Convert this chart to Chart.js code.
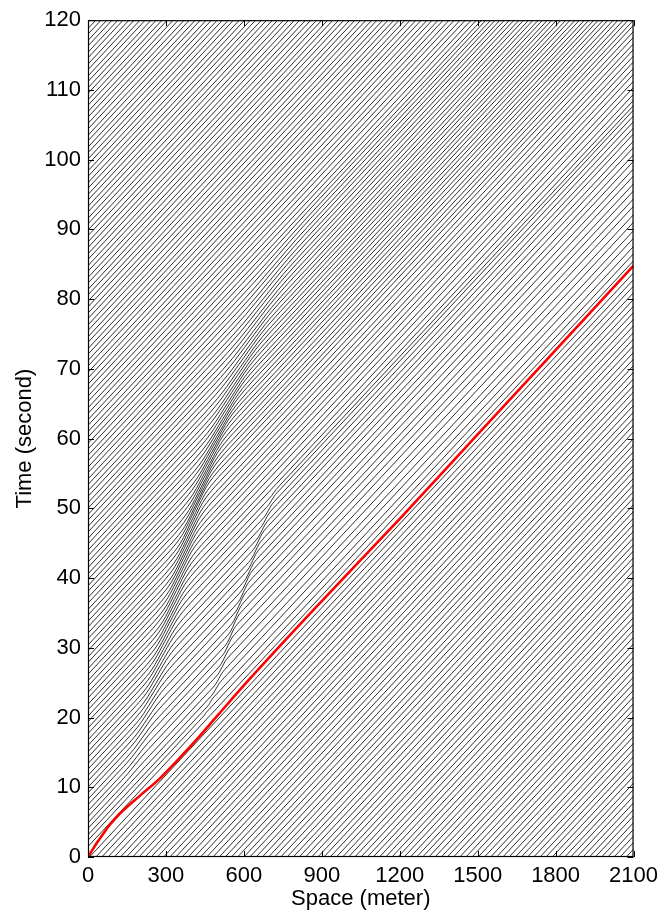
<!DOCTYPE html>
<html>
<head>
<meta charset="utf-8">
<script src="https://cdn.jsdelivr.net/npm/chart.js@4.4.1/dist/chart.umd.min.js"></script>
<style>
  html, body { margin: 0; padding: 0; background: #fff; }
</style>
</head>
<body>
<canvas id="tsChart" width="664" height="912"></canvas>
<script>
// ---- axes ----
const xTicks = [0, 300, 600, 900, 1200, 1500, 1800, 2100];
const yTicks = [0, 10, 20, 30, 40, 50, 60, 70, 80, 90, 100, 110, 120];
const roadEnd = 2100;      // meter
const freeSpeed = 25;      // m/s, slope of the hatch

// ---- vehicles already on the road at t = 0 (position, meter) ----
const startPositions = [6, 30, 53, 77, 101, 125, 148, 172, 196, 220, 243, 267, 291, 315, 338, 362, 386, 410,
  433, 457, 481, 505, 528, 552, 576, 600, 623, 647, 671, 695, 718, 742, 766, 790, 813, 837, 861, 885, 908,
  932, 956, 980, 1003, 1027, 1051, 1075, 1098, 1122, 1146, 1170, 1193, 1217, 1241, 1265, 1288, 1312, 1336,
  1360, 1383, 1407, 1431, 1455, 1478, 1502, 1526, 1550, 1573, 1597, 1621, 1645, 1668, 1692, 1716, 1740,
  1763, 1787, 1811, 1835, 1858, 1882, 1906, 1930, 1953, 1977, 2001, 2025, 2048, 2072, 2096];

// ---- vehicles entering at x = 0 after the red one (second) ----
const entryTimes = [1.5, 2.4, 3.2, 4.1, 4.9, 5.8, 6.6, 7.5, 8.3, 9.2, 10.0, 10.9, 11.7, 12.6, 13.4, 14.3,
  15.1, 16.0, 16.8, 17.7, 18.5, 19.4, 20.2, 21.1, 21.9, 22.8, 23.6, 24.5, 25.3, 26.2, 27.0, 27.9, 28.7, 29.6,
  30.4, 31.3, 32.1, 33.0, 33.8, 34.7, 35.5, 36.4, 37.2, 38.1, 38.9, 39.8, 40.6, 41.5, 42.3, 43.2, 44.0, 44.9,
  45.7, 46.6, 47.4, 48.3, 49.1, 50.0, 50.8, 51.7, 52.5, 53.4, 54.2, 55.1, 55.9, 56.8, 57.6, 58.5, 59.3, 60.2,
  61.0, 61.9, 62.7, 63.6, 64.4, 65.3, 66.1, 67.0, 67.8, 68.7, 69.5, 70.4, 71.2, 72.1, 72.9, 73.8, 74.6, 75.5,
  76.3, 77.2, 78.0, 78.9, 79.7, 80.6, 81.4, 82.3, 83.1, 84.0, 84.8, 85.7, 86.5, 87.4, 88.2, 89.1, 89.9, 90.8,
  91.6, 92.5, 93.3, 94.2, 95.0, 95.9, 96.7, 97.6, 98.4, 99.3, 100.1, 101.0, 101.8, 102.7, 103.5, 104.4, 105.2,
  106.1, 106.9, 107.8, 108.6, 109.5, 110.3, 111.2, 112.0, 112.9, 113.7, 114.6, 115.4, 116.3, 117.1, 118.0,
  118.8, 119.7];

// ---- red (probe) vehicle ----
const redX = [0, 30, 60, 77, 100, 122, 200, 275, 400, 499, 600, 900, 1200, 1500, 1800, 2100];
const redT = [0, 1.8, 3.4, 4.3, 5.3, 6.2, 8.8, 11.2, 16.1, 20.3, 24.6, 36.7, 48.5, 60.6, 72.7, 84.8];

// ---- slow zone A (the fan): key vehicles by entry time, where they start / stop losing time, lost time ----
const bandAEntry = [4, 8, 13, 19, 25, 31, 37, 43, 49, 55, 60];
const bandAStart = [120, 140, 175, 220, 265, 315, 365, 420, 480, 545, 610];
const bandAEnd   = [200, 270, 340, 400, 450, 500, 580, 680, 780, 870, 950];
const bandADelay = [0, 0.8, 2.0, 3.2, 3.8, 4.0, 3.5, 2.6, 1.6, 0.8, 0];

// ---- weak zone B (second kink) ----
const bandBEntry = [2, 4, 8, 12, 16, 19, 21];
const bandBStart = [440, 470, 520, 575, 630, 680, 710];
const bandBEnd   = [440, 515, 570, 630, 685, 725, 740];
const bandBDelay = [0, 0.6, 1.2, 1.3, 1.1, 0.6, 0];

// share of the lost time reached at 0, 1/4, 1/2, 3/4, 1 of a zone
const lossShape = [0, 0.1, 0.5, 0.9, 1];

function bandFor(entry, starts, ends, delays, t0) {
    if (t0 <= entry[0] || t0 >= entry[entry.length - 1]) return null;
    let i = 0;
    while (entry[i + 1] < t0) i++;
    const f = (t0 - entry[i]) / (entry[i + 1] - entry[i]);
    const mix = a => a[i] + f * (a[i + 1] - a[i]);
    return { xa: mix(starts), xb: mix(ends), d: mix(delays) };
}

function trajectory(t0) {
    const pts = [{ x: 0, y: t0 }];
    let lost = 0;
    [bandFor(bandAEntry, bandAStart, bandAEnd, bandADelay, t0),
     bandFor(bandBEntry, bandBStart, bandBEnd, bandBDelay, t0)].forEach(b => {
        if (!b || b.d <= 0.01) return;
        const w = b.xb - b.xa;
        pts.push({ x: b.xa - 20, y: t0 + (b.xa - 20) / freeSpeed + lost });
        lossShape.forEach((s, k) => {
            const x = b.xa + w * k / (lossShape.length - 1);
            pts.push({ x: x, y: t0 + x / freeSpeed + lost + s * b.d });
        });
        lost += b.d;
        pts.push({ x: b.xb + 20, y: t0 + (b.xb + 20) / freeSpeed + lost });
    });
    pts.push({ x: roadEnd, y: t0 + roadEnd / freeSpeed + lost });
    return pts;
}

const lineStyle = {
    borderColor: '#1a1a1a', borderWidth: 0.9, pointRadius: 0, fill: false,
    cubicInterpolationMode: 'monotone', clip: 0, order: 1
};

const datasets = [{
    data: redX.map((x, i) => ({ x: x, y: redT[i] })),
    borderColor: '#ff0000', borderWidth: 2.6, pointRadius: 0, fill: false,
    cubicInterpolationMode: 'monotone', clip: 0, order: 0
}];
startPositions.forEach(x0 => {
    datasets.push(Object.assign({ data: [{ x: x0, y: 0 }, { x: roadEnd, y: (roadEnd - x0) / freeSpeed }] }, lineStyle));
});
entryTimes.forEach(t0 => {
    datasets.push(Object.assign({ data: trajectory(t0) }, lineStyle));
});

// box + inward tick marks, matlab style
const framePlugin = {
    id: 'frame',
    afterDatasetsDraw(chart) {
        const { ctx, chartArea: a, scales } = chart;
        ctx.save();
        ctx.strokeStyle = '#000';
        ctx.lineWidth = 1;
        ctx.beginPath();
        xTicks.forEach(v => {
            const px = Math.round(scales.x.getPixelForValue(v)) + 0.5;
            ctx.moveTo(px, a.bottom); ctx.lineTo(px, a.bottom - 6);
            ctx.moveTo(px, a.top); ctx.lineTo(px, a.top + 6);
        });
        yTicks.forEach(v => {
            const py = Math.round(scales.y.getPixelForValue(v)) + 0.5;
            ctx.moveTo(a.left, py); ctx.lineTo(a.left + 6, py);
            ctx.moveTo(a.right, py); ctx.lineTo(a.right - 6, py);
        });
        ctx.stroke();
        ctx.lineWidth = 1.2;
        ctx.strokeRect(a.left + 0.5, a.top + 0.5, a.right - a.left - 1, a.bottom - a.top - 1);
        ctx.restore();
    }
};

const font = { family: '"Liberation Sans", Arial, sans-serif', size: 22 };

new Chart(document.getElementById('tsChart'), {
    type: 'line',
    data: { datasets: datasets },
    options: {
        responsive: false,
        animation: false,
        events: [],
        layout: { padding: { top: 16, right: 29, bottom: 0, left: 0 } },
        plugins: { legend: { display: false }, tooltip: { enabled: false } },
        scales: {
            x: {
                type: 'linear', min: 0, max: 2100,
                grid: { display: false, drawTicks: false },
                border: { display: false },
                ticks: { stepSize: 300, color: '#000', font: font, padding: 6, maxRotation: 0,
                         callback: v => String(v) },
                title: { display: true, text: 'Space (meter)', color: '#000', font: font, padding: { top: 0, bottom: 0 } },
                afterFit: s => { s.height = 55; }
            },
            y: {
                type: 'linear', min: 0, max: 120,
                grid: { display: false, drawTicks: false },
                border: { display: false },
                ticks: { stepSize: 10, color: '#000', font: font, padding: 7, callback: v => String(v) },
                title: { display: true, text: 'Time (second)', color: '#000', font: font, padding: { top: 12, bottom: 0 } },
                afterFit: s => { s.width = 88; }
            }
        }
    },
    plugins: [framePlugin]
});
</script>
</body>
</html>
